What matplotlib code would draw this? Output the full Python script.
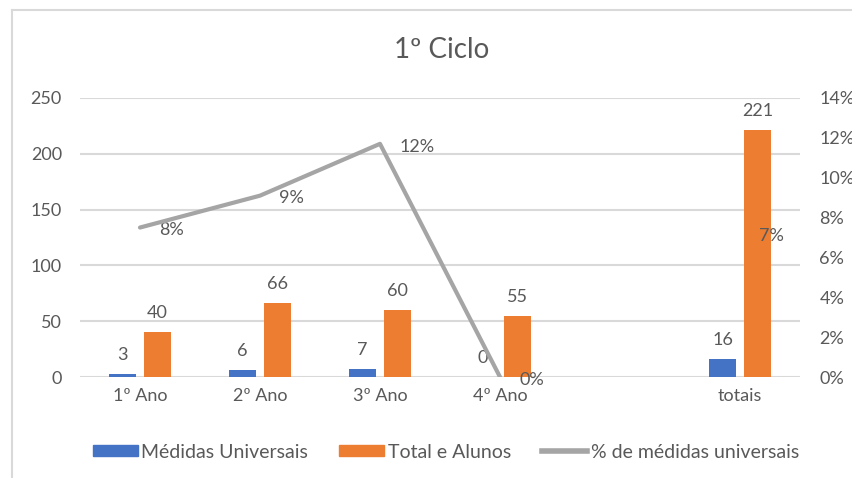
import numpy as np
import matplotlib.pyplot as plt
from matplotlib.lines import Line2D
from matplotlib.ticker import FuncFormatter

# Data
categorias = ["1º Ano", "2º Ano", "3º Ano", "4º Ano", "", "totais"]
medidas = [3, 6, 7, 0, np.nan, 16]
total_alunos = [40, 66, 60, 55, np.nan, 221]
pct_medidas = [0.075, 0.091, 0.117, 0.0, np.nan, 0.072]
pct_labels = ["8%", "9%", "12%", "0%", "", "7%"]

plt.rcParams['font.family'] = ['Lato', 'DejaVu Sans']
txt = "#595959"
grid_c = "#d9d9d9"
blue = "#4472c4"
orange = "#ed7d31"
gray = "#a5a5a5"
fs = 13

fig = plt.figure(figsize=(8.53, 4.78), dpi=100)
ax = fig.add_axes([80 / 853, 101 / 478, 720 / 853, 279 / 478])
ax2 = ax.twinx()

x = np.arange(len(categorias))
w = 0.22
off = 0.145
ax.bar(x - off, medidas, w, color=blue, zorder=3)
ax.bar(x + off, total_alunos, w, color=orange, zorder=3)

for xi, v in zip(x, medidas):
    if not np.isnan(v):
        ax.annotate(f"{v:.0f}", (xi - off, v), xytext=(0, 8), textcoords="offset points",
                    ha="center", va="bottom", fontsize=fs, color=txt)
for xi, v in zip(x, total_alunos):
    if not np.isnan(v):
        ax.annotate(f"{v:.0f}", (xi + off, v), xytext=(0, 8), textcoords="offset points",
                    ha="center", va="bottom", fontsize=fs, color=txt)

ax.set_xlim(-0.5, len(categorias) - 0.5)
ax.set_ylim(0, 250)
ax.set_yticks(range(0, 251, 50))
ax.set_xticks(x)
ax.set_xticklabels(categorias)
ax.grid(axis="y", color=grid_c, linewidth=1.5, zorder=0)
ax.set_axisbelow(True)

ax2.plot(x, pct_medidas, color=gray, linewidth=3, solid_capstyle="round", zorder=4)
for xi, v, lab in zip(x, pct_medidas, pct_labels):
    if lab:
        ax2.annotate(lab, (xi, v), xytext=(14, -2), textcoords="offset points",
                     ha="left", va="center", fontsize=fs, color=txt)
ax2.set_ylim(0, 0.14)
ax2.set_yticks(np.arange(0, 0.141, 0.02))
ax2.yaxis.set_major_formatter(FuncFormatter(lambda v, p: f"{v * 100:.0f}%"))

for a in (ax, ax2):
    for s in a.spines.values():
        s.set_visible(False)
    a.tick_params(length=0, colors=txt, labelsize=fs)
ax.tick_params(axis="y", pad=13)
ax2.tick_params(axis="y", pad=14)
ax.tick_params(axis="x", pad=8)

fig.text(442 / 853, 1 - 50 / 478, "1º Ciclo", ha="center", va="center", fontsize=20, color=txt)

handles = [
    plt.Rectangle((0, 0), 1, 1, color=blue),
    plt.Rectangle((0, 0), 1, 1, color=orange),
    Line2D([0], [0], color=gray, linewidth=4),
]
leg = fig.legend(handles, ["Médidas Universais", "Total e Alunos", "% de médidas universais"],
                 loc="center", bbox_to_anchor=(446 / 853, 1 - 452 / 478), ncol=3, frameon=False,
                 fontsize=14, handlelength=2.3, handleheight=0.5, columnspacing=1.6,
                 handletextpad=0.2)
for t in leg.get_texts():
    t.set_color(txt)

# chart border (top and left visible)
fig.add_artist(Line2D([12 / 853, 12 / 853], [0, 1 - 10 / 478], transform=fig.transFigure,
                      color=grid_c, linewidth=1.5))
fig.add_artist(Line2D([12 / 853, 1], [1 - 10 / 478, 1 - 10 / 478], transform=fig.transFigure,
                      color=grid_c, linewidth=1.5))

fig.savefig("out.png", dpi=100)
